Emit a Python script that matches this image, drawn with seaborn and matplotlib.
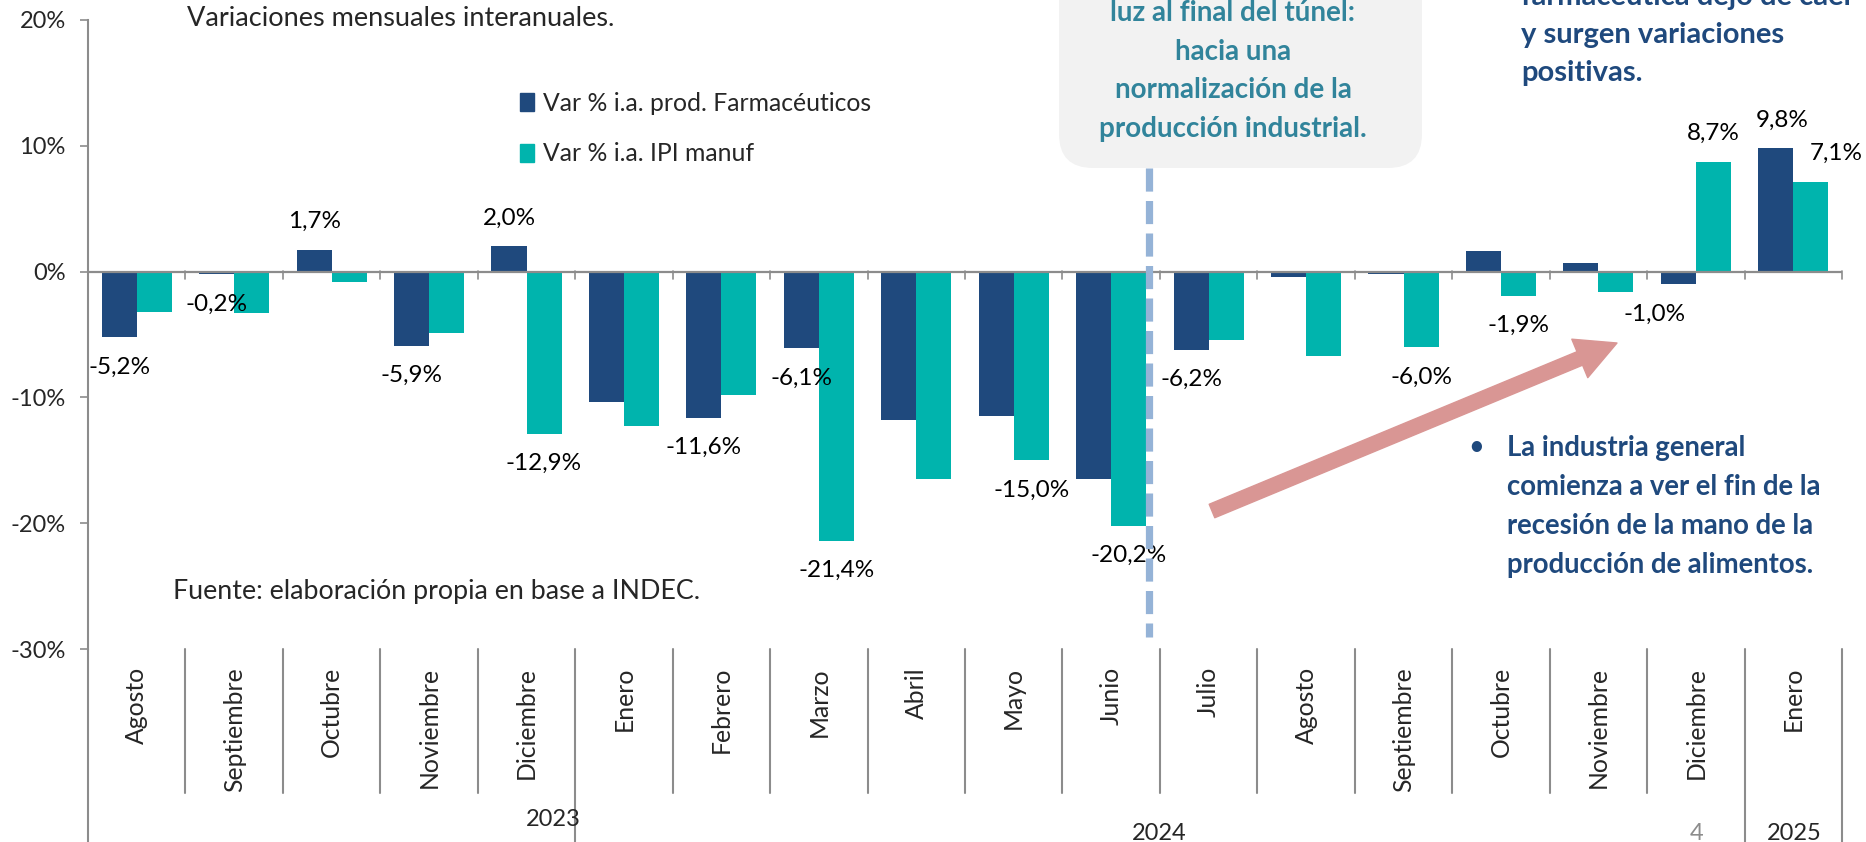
import numpy as np
import pandas as pd
import matplotlib
matplotlib.use("Agg")
import matplotlib.pyplot as plt
import seaborn as sns
from matplotlib.patches import FancyBboxPatch, FancyArrowPatch, Patch
from matplotlib.lines import Line2D
from matplotlib.transforms import IdentityTransform, blended_transform_factory

# datos (variaciones % interanuales)
periodos = ["2023-08", "2023-09", "2023-10", "2023-11", "2023-12", "2024-01", "2024-02",
            "2024-03", "2024-04", "2024-05", "2024-06", "2024-07", "2024-08", "2024-09",
            "2024-10", "2024-11", "2024-12", "2025-01"]
meses = ["Agosto", "Septiembre", "Octubre", "Noviembre", "Diciembre", "Enero", "Febrero",
         "Marzo", "Abril", "Mayo", "Junio", "Julio", "Agosto", "Septiembre", "Octubre",
         "Noviembre", "Diciembre", "Enero"]
farma = [-5.2, -0.2, 1.7, -5.9, 2.0, -10.4, -11.6, -6.1, -11.8, -11.5, -16.5, -6.2,
         -0.4, -0.2, 1.6, 0.7, -1.0, 9.8]
ipi = [-3.2, -3.3, -0.8, -4.9, -12.9, -12.3, -9.8, -21.4, -16.5, -15.0, -20.2, -5.4,
       -6.7, -6.0, -1.9, -1.6, 8.7, 7.1]
etiq_farma = [0, 1, 2, 3, 4, 6, 7, 11, 16, 17]
etiq_ipi = [4, 7, 9, 10, 13, 14, 16, 17]
serie_farma = "Var % i.a. prod. Farmacéuticos"
serie_ipi = "Var % i.a. IPI manuf"
anios = ["2023", "2024", "2025"]

W, H = 1866, 842
AZUL = "#1F497D"
TEAL = "#00B4AD"
GRIS = "#8C8C8C"

df = pd.DataFrame({
    "periodo": periodos * 2,
    "valor": farma + ipi,
    "serie": [serie_farma] * len(farma) + [serie_ipi] * len(ipi),
})

sns.set_style("white")
plt.rcParams["font.family"] = ["Lato", "DejaVu Sans"]

fig = plt.figure(figsize=(W / 100, H / 100), dpi=100)
ax = fig.add_axes([88 / W, 193 / H, 1754 / W, 629 / H])

sns.barplot(data=df, x="periodo", y="valor", hue="serie", order=periodos,
            palette=[AZUL, TEAL], width=0.72, saturation=1, errorbar=None,
            linewidth=0, ax=ax, zorder=2)

ax.set_ylim(-30, 20)
ax.set_xlim(-0.5, len(periodos) - 0.5)
ax.set_yticks([-30, -20, -10, 0, 10, 20])
ax.set_yticklabels(["-30%", "-20%", "-10%", "0%", "10%", "20%"], fontsize=17)
ax.set_xticks(range(len(meses)))
ax.set_xticklabels(meses, rotation=90, fontsize=17.8)
ax.tick_params(axis="x", length=0, pad=13)
ax.tick_params(axis="y", length=6, width=1.2, color=GRIS, left=True, pad=10)
ax.set_xlabel("")
ax.set_ylabel("")
for s in ["top", "right", "bottom"]:
    ax.spines[s].set_visible(False)
ax.spines["left"].set_color(GRIS)
ax.spines["left"].set_linewidth(1.5)
ax.axhline(0, color=GRIS, lw=1.6, zorder=3)

# leyenda
handles = [Patch(color=AZUL), Patch(color=TEAL)]
ax.legend(handles, [serie_farma, serie_ipi], loc="upper left",
          bbox_to_anchor=(520 / W, 1 - 92 / H), bbox_transform=fig.transFigure,
          frameon=False, fontsize=17.8, handlelength=0.55, handleheight=0.75,
          handletextpad=0.4, labelspacing=1.1, borderpad=0, borderaxespad=0)

# etiquetas de datos
ajuste_x = {("ipi", 17): 18, ("farma", 16): -17, ("farma", 17): 5}
def etiquetar(valores, idx, desp, nombre):
    for i in idx:
        v = valores[i]
        x = i + desp
        dx = ajuste_x.get((nombre, i), 0)
        dy = 20.5 if v > 0 else -21.5
        ax.annotate(f"{v:.1f}%".replace(".", ","), (x, v), xytext=(dx, dy),
                    textcoords="offset points", ha="center", va="center",
                    fontsize=17.5, color="black", zorder=5)
etiquetar(farma, etiq_farma, -0.18, "farma")
etiquetar(ipi, etiq_ipi, 0.18, "ipi")

# líneas del eje de categorías
trans = blended_transform_factory(ax.transData, IdentityTransform())
for k in range(-1, len(periodos)):
    xb = k + 0.5
    ax.plot([xb, xb], [H - 271, H - 279], color=GRIS, lw=1.2, transform=trans, clip_on=False)
    if k in (-1, 4, 16, 17):
        ax.plot([xb, xb], [193, 0], color=GRIS, lw=1.5, transform=trans, clip_on=False)
    else:
        ax.plot([xb, xb], [193, 49], color=GRIS, lw=1.5, transform=trans, clip_on=False)

def fx(x):
    return x / W
def fy(y):
    return 1 - y / H

fig.text(fx(553), fy(820), anios[0], ha="center", va="center", fontsize=17)
fig.text(fx(1159), fy(833), anios[1], ha="center", va="center", fontsize=17)
fig.text(fx(1794), fy(833), anios[2], ha="center", va="center", fontsize=17)
fig.text(fx(1697), fy(833), "4", ha="center", va="center", fontsize=17, color=GRIS)

fig.text(fx(187), fy(18), "Variaciones mensuales interanuales.", ha="left", va="center", fontsize=19.5)
fig.text(fx(173), fy(592), "Fuente: elaboración propia en base a INDEC.", ha="left", va="center", fontsize=19.3)

# recuadro gris
caja = FancyBboxPatch((1059, H - 168), 363, 240, boxstyle="round,pad=0,rounding_size=34",
                      transform=IdentityTransform(), facecolor="#F2F2F2", edgecolor="none",
                      zorder=1)
fig.patches.append(caja)
lineas_caja = ["luz al final del túnel:", "hacia una", "normalización de la",
               "producción industrial."]
for j, t in enumerate(lineas_caja):
    fig.text(fx(1233), fy(21 + 38.5 * j), t, ha="center", va="baseline", fontsize=20,
             fontweight="bold", color="#31849B")

# línea punteada
ax.add_line(Line2D([1149, 1149], [H - 168, H - 637], transform=IdentityTransform(),
                   color="#95B3D7", lw=5.2, dashes=(3.2, 1.3), clip_on=False, zorder=6))

# texto superior derecho
for j, t in enumerate(["farmacéutica dejó de caer", "y surgen variaciones", "positivas."]):
    fig.text(fx(1521), fy(5 + 38 * j), t, ha="left", va="baseline", fontsize=21,
             fontweight="bold", color=AZUL)

# texto inferior derecho
fig.text(fx(1476), fy(447), "•", ha="center", va="center", fontsize=17, color=AZUL,
         fontweight="bold")
for j, t in enumerate(["La industria general", "comienza a ver el fin de la",
                       "recesión de la mano de la", "producción de alimentos."]):
    fig.text(fx(1507), fy(456 + 39 * j), t, ha="left", va="baseline", fontsize=19.8,
             fontweight="bold", color=AZUL)

# flecha
flecha = FancyArrowPatch((1212, H - 511), (1617, H - 343), transform=IdentityTransform(),
                         arrowstyle="simple,head_length=29,head_width=30,tail_width=10.5",
                         mutation_scale=1, color="#D99694", shrinkA=0, shrinkB=0, zorder=7)
fig.patches.append(flecha)

fig.savefig("out.png", dpi=100)
